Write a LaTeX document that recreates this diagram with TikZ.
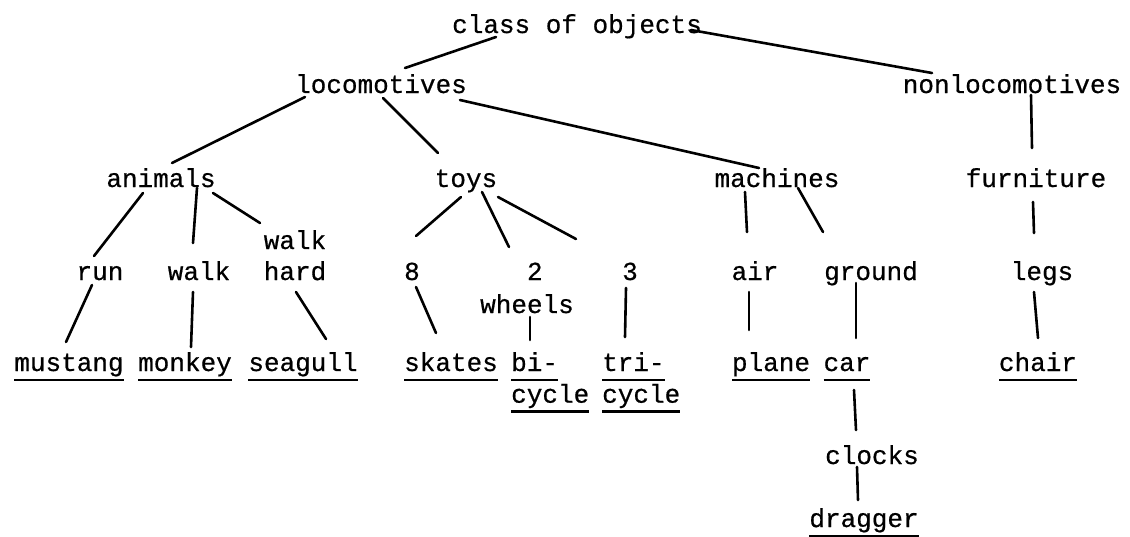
\documentclass[tikz,border=0pt]{standalone}
\usepackage{fontspec}
\setmainfont{Liberation Mono}[FakeBold=0.6]
% typewriter-style underline at a fixed depth below the baseline
\newcommand\typeul[1]{\setbox0\hbox{#1}\rlap{\rule[-10pt]{\wd0}{2.4pt}}\box0}
\begin{document}
\begin{tikzpicture}[x=1pt,y=-1pt,
  word/.style={inner sep=0pt, anchor=base, font=\fontsize{26}{31}\selectfont},
  link/.style={line width=2.6pt, line cap=round}]
\useasboundingbox (0,0) rectangle (1130,536);

% level 0 and 1
\node[word] (cls) at (577,33) {class of objects};
\node[word] (loco) at (381,93) {locomotives};
\node[word] (nonloco) at (1012,93) {nonlocomotives};

% level 2
\node[word] (animals) at (161,187) {animals};
\node[word] (toys) at (466,187) {toys};
\node[word] (machines) at (777,187) {machines};
\node[word] (furniture) at (1036,187) {furniture};

% level 3
\node[word] (run) at (100,280) {run};
\node[word] (walk) at (199,280) {walk};
\node[word] (walkhard) at (295,249) {\begin{tabular}[t]{@{}c@{}}walk\\hard\end{tabular}};
\node[word] (eight) at (412,280) {8};
\node[word, anchor=base west] (twowheels) at (480,280) {\begin{tabular}[t]{@{}l@{}}\phantom{whe}2\\[2pt]wheels\end{tabular}};
\node[word] (three) at (630,280) {3};
\node[word] (air) at (755,280) {air};
\node[word] (ground) at (871,280) {ground};
\node[word] (legs) at (1042,280) {legs};

% leaves
\node[word] (mustang) at (69,371) {\typeul{mustang}};
\node[word] (monkey) at (185,371) {\typeul{monkey}};
\node[word] (seagull) at (303,371) {\typeul{seagull}};
\node[word] (skates) at (451,371) {\typeul{skates}};
\node[word, anchor=base west] (bicycle) at (511,371) {\begin{tabular}[t]{@{}l@{}}\typeul{bi-}\\\typeul{cycle}\end{tabular}};
\node[word, anchor=base west] (tricycle) at (602,371) {\begin{tabular}[t]{@{}l@{}}\typeul{tri-}\\\typeul{cycle}\end{tabular}};
\node[word] (plane) at (771,371) {\typeul{plane}};
\node[word] (car) at (847,371) {\typeul{car}};
\node[word] (chair) at (1038,371) {\typeul{chair}};
\node[word] (clocks) at (872,464) {clocks};
\node[word] (dragger) at (864,527) {\typeul{dragger}};

% connectors
\draw[link] ([shift={(-81,4)}]cls.base) -- ([shift={(24,-25)}]loco.base);
\draw[link] ([shift={(114,-3)}]cls.base) -- ([shift={(-80,-20)}]nonloco.base);
\draw[link] ([shift={(-76,4)}]loco.base) -- ([shift={(11,-24)}]animals.base);
\draw[link] ([shift={(2,5)}]loco.base) -- ([shift={(-28,-34)}]toys.base);
\draw[link] ([shift={(79,7)}]loco.base) -- ([shift={(-18,-19)}]machines.base);
\draw[link] ([shift={(19,2)}]nonloco.base) -- ([shift={(-4,-39)}]furniture.base);

\draw[link] ([shift={(-18,6)}]animals.base) -- ([shift={(-6,-24)}]run.base);
\draw[link] ([shift={(36,1)}]animals.base) -- ([shift={(-6,-37)}]walk.base);
\draw[link] ([shift={(52,6)}]animals.base) -- ([shift={(-35,-26)}]walkhard.base);
\draw[link] ([shift={(-5,10)}]toys.base) -- ([shift={(4,-44)}]eight.base);
\draw[link] ([shift={(16,5)}]toys.base) -- ([shift={(29,-33)}]twowheels.base west);
\draw[link] ([shift={(32,10)}]toys.base) -- ([shift={(-54,-41)}]three.base);
\draw[link] ([shift={(-32,5)}]machines.base) -- ([shift={(-8,-48)}]air.base);
\draw[link] ([shift={(21,1)}]machines.base) -- ([shift={(-48,-48)}]ground.base);
\draw[link] ([shift={(-3,15)}]furniture.base) -- ([shift={(-8,-47)}]legs.base);

\draw[link] ([shift={(-8,5)}]run.base) -- ([shift={(-3,-29)}]mustang.base);
\draw[link] ([shift={(-6,12)}]walk.base) -- ([shift={(6,-24)}]monkey.base);
\draw[link] ([shift={(1,43)}]walkhard.base) -- ([shift={(23,-32)}]seagull.base);
\draw[link] ([shift={(4,7)}]eight.base) -- ([shift={(-15,-38)}]skates.base);
\draw[link] ([shift={(50,37)}]twowheels.base west) -- ([shift={(19,-31)}]bicycle.base west);
\draw[link] ([shift={(-4,8)}]three.base) -- ([shift={(23,-34)}]tricycle.base west);
\draw[link] ([shift={(-6,12)}]air.base) -- ([shift={(-22,-41)}]plane.base);
\draw[link] ([shift={(-15,3)}]ground.base) -- ([shift={(9,-33)}]car.base);
\draw[link] ([shift={(-8,12)}]legs.base) -- ([shift={(0,-33)}]chair.base);
\draw[link] ([shift={(7,19)}]car.base) -- ([shift={(-16,-34)}]clocks.base);
\draw[link] ([shift={(-15,3)}]clocks.base) -- ([shift={(-6,-27)}]dragger.base);
\end{tikzpicture}
\end{document}
